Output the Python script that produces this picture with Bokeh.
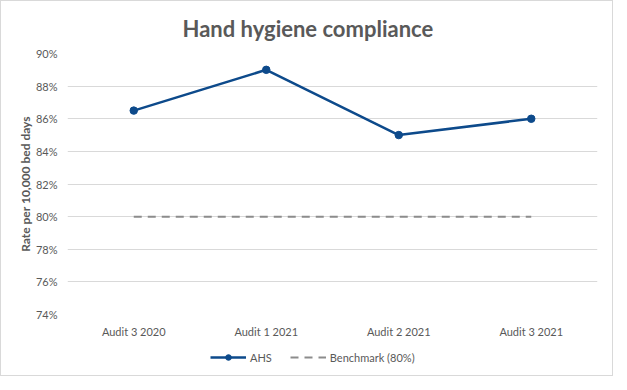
from bokeh.plotting import figure
from bokeh.layouts import column
from bokeh.models import FixedTicker, NumeralTickFormatter, Legend, LegendItem, Range1d, FactorRange
from bokeh.embed import file_html
from bokeh.resources import INLINE

categories = ["Audit 3 2020", "Audit 1 2021", "Audit 2 2021", "Audit 3 2021"]
ahs = [0.865, 0.89, 0.85, 0.86]
benchmark = [0.80, 0.80, 0.80, 0.80]
y_ticks = [0.74, 0.76, 0.78, 0.80, 0.82, 0.84, 0.86, 0.88, 0.90]

FONT = "Lato"
TXT = "#595959"
blue = "#0d4a8b"
grey = "#8c8c8c"

p = figure(width=611, height=340, x_range=FactorRange(*categories, range_padding=0),
           y_range=Range1d(0.74, 0.90), output_backend="svg", toolbar_location=None,
           min_border_left=66, min_border_right=15, min_border_top=52, min_border_bottom=27)
p.outline_line_color = None

p.title.text = "Hand hygiene compliance"
p.title.align = "left"
p.title.offset = 115
p.title.standoff = 23
p.title.vertical_align = "bottom"
p.title.text_font = FONT
p.title.text_font_size = "22px"
p.title.text_color = TXT
p.title.text_font_style = "bold"

p.yaxis.ticker = FixedTicker(ticks=y_ticks)
p.yaxis.formatter = NumeralTickFormatter(format="0%")
p.yaxis.axis_label = "Rate per 10,000 bed days"
p.yaxis.axis_label_text_font = FONT
p.yaxis.axis_label_text_font_size = "12px"
p.yaxis.axis_label_text_font_style = "bold"
p.yaxis.axis_label_text_color = TXT
p.yaxis.axis_label_standoff = 0
for ax in (p.xaxis, p.yaxis):
    ax.axis_line_color = None
    ax.major_tick_line_color = None
    ax.minor_tick_line_color = None
    ax.major_label_text_font = FONT
    ax.major_label_text_font_size = "11px"
    ax.major_label_text_color = TXT
p.yaxis.major_tick_out = 0
p.yaxis.major_label_standoff = 10
p.xaxis.major_label_standoff = 4

p.xgrid.grid_line_color = None
p.ygrid.grid_line_color = "#d9d9d9"
p.ygrid.grid_line_width = 1

p.line(categories, ahs, line_color=blue, line_width=2.5)
p.scatter(categories, ahs, size=7.5, fill_color=blue, line_color=blue)
p.line(categories, benchmark, line_color=grey, line_width=2, line_dash="8 6")

# legend strip (its renderers reuse the data but lie outside its visible range)
q = figure(width=611, height=34, x_range=FactorRange(*categories, range_padding=0),
           y_range=Range1d(2, 3), output_backend="svg", toolbar_location=None,
           x_axis_location=None, y_axis_location=None,
           min_border_left=0, min_border_right=0, min_border_top=0, min_border_bottom=0)
q.grid.visible = False
q.outline_line_color = None
k1 = q.line(categories, ahs, line_color=blue, line_width=2.5)
k2 = q.scatter(categories, ahs, size=7.5, fill_color=blue, line_color=blue)
k3 = q.line(categories, benchmark, line_color=grey, line_width=2, line_dash="8 6")
legend = Legend(items=[LegendItem(label="AHS", renderers=[k1, k2]),
                       LegendItem(label="Benchmark (80%)", renderers=[k3])],
                orientation="horizontal", location=(143, 11),
                border_line_color=None, background_fill_alpha=0,
                label_text_font=FONT, label_text_font_size="11px", label_text_color=TXT,
                glyph_width=36, glyph_height=14, label_height=14, label_standoff=4,
                spacing=18, padding=0, margin=0)
q.add_layout(legend, "center")

layout = column(p, q, spacing=0, styles={"border": "1px solid #d9d9d9"})
open("out.html", "w").write(file_html(layout, INLINE))
